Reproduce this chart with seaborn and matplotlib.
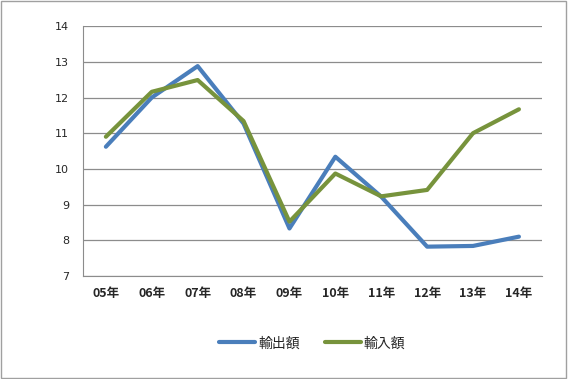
import numpy as np
import pandas as pd
import matplotlib
matplotlib.use("Agg")
import matplotlib.pyplot as plt
from matplotlib.patches import Rectangle
import seaborn as sns

years = ["05年", "06年", "07年", "08年", "09年", "10年", "11年", "12年", "13年", "14年"]
exports = [10.62, 12.00, 12.88, 11.27, 8.33, 10.34, 9.22, 7.82, 7.84, 8.10]
imports = [10.90, 12.16, 12.49, 11.34, 8.52, 9.87, 9.23, 9.41, 11.00, 11.67]
series_names = ["輸出額", "輸入額"]
colors = ["#4A7EBB", "#77933C"]

df = pd.DataFrame({
    "year": years * 2,
    "value": exports + imports,
    "series": [series_names[0]] * len(years) + [series_names[1]] * len(years),
})

sns.set_style("white")
plt.rcParams["font.family"] = ["Noto Sans CJK JP", "DejaVu Sans"]

fig = plt.figure(figsize=(5.68, 3.79), dpi=100)
ax = fig.add_axes([0.146, 0.272, 0.808, 0.659])

sns.lineplot(data=df, x="year", y="value", hue="series", palette=colors,
             linewidth=3, sort=False, ax=ax, legend=True)

ax.set_xlim(-0.5, len(years) - 0.5)
ax.set_ylim(7, 14)
ax.set_yticks(range(7, 15))
ax.yaxis.grid(True, color="#8c8c8c", linewidth=0.9)
ax.set_axisbelow(True)
for s in ["top", "right"]:
    ax.spines[s].set_visible(False)
ax.spines["left"].set_color("#8c8c8c")
ax.spines["bottom"].set_color("#8c8c8c")
ax.set_xlabel("")
ax.set_ylabel("")
ax.tick_params(axis="y", length=4, color="#8c8c8c", labelsize=8, pad=6)
for lbl in ax.get_yticklabels():
    lbl.set_family("DejaVu Sans")
ax.tick_params(axis="x", which="major", length=0, labelsize=9, pad=8)
ax.set_xticks(np.arange(-0.5, len(years)), minor=True)
ax.tick_params(axis="x", which="minor", length=4, color="#8c8c8c")
for lbl in ax.get_xticklabels():
    lbl.set_fontweight("bold")

handles, labels = ax.get_legend_handles_labels()
ax.legend(handles, labels, loc="center", bbox_to_anchor=(0.5, -0.27),
          ncol=2, frameon=False, fontsize=10, handlelength=2.6,
          columnspacing=1.8, handletextpad=0.2)

fig.patches.append(Rectangle((0.002, 0.003), 0.995, 0.994, transform=fig.transFigure,
                             fill=False, edgecolor="#a0a0a0", linewidth=1))

fig.savefig("out.png", dpi=100)
